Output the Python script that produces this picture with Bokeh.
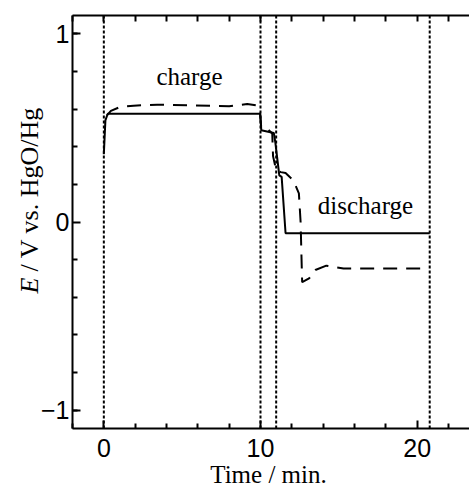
from bokeh.plotting import figure
from bokeh.models import Range1d, FixedTicker, LinearAxis, Label
from bokeh.embed import file_html
from bokeh.resources import INLINE

# ---- data ----
solid_t = [0.0, 0.1, 0.25, 9.9, 9.98, 10.05, 10.85, 10.95, 11.2, 11.35, 11.6, 20.8]
solid_E = [0.36, 0.54, 0.575, 0.575, 0.575, 0.487, 0.473, 0.42, 0.248, 0.24, -0.06, -0.06]

dash_t = [0.2, 0.45, 1.0, 1.9, 3.4, 8.0, 9.15, 9.7, 9.95, 10.05, 10.5, 10.75, 10.8,
          11.0, 11.3, 11.6, 12.1, 12.45, 12.56, 12.62, 12.66, 13.1, 13.5, 14.2, 15.3, 20.55]
dash_E = [0.566, 0.59, 0.61, 0.618, 0.623, 0.615, 0.627, 0.62, 0.6, 0.5, 0.49, 0.47, 0.35,
          0.275, 0.265, 0.26, 0.22, 0.152, 0.0, -0.2, -0.32, -0.30, -0.255, -0.232, -0.247, -0.247]

markers = [0, 10, 11, 20.8]

x_major = [0, 10, 20]
x_minor = [-2, 2, 4, 6, 8, 12, 14, 16, 18, 22]
y_major = [-1, 0, 1]
y_minor = [-1.0, -0.8, -0.6, -0.4, -0.2, 0.2, 0.4, 0.6, 0.8, 1.0]
y_labels = {-1: "\u22121", 0: "0", 1: "1"}

# axis box limits
x_lo, x_hi = -2.0, 23.34
y_lo, y_hi = -1.097, 1.097

# ---- layout (pixels) ----
W, H = 469, 488
BOX_L, BOX_T, BOX_B = 72, 15, 60
sx = (W - BOX_L) / (x_hi - x_lo)          # px per minute
sy = (H - BOX_T - BOX_B) / (y_hi - y_lo)  # px per volt

SANS = "Liberation Sans"
SERIF = "Liberation Serif"

p = figure(width=W, height=H, output_backend="svg", toolbar_location=None,
           x_range=Range1d(x_lo - BOX_L / sx, x_hi),
           y_range=Range1d(y_lo - BOX_B / sy, y_hi + BOX_T / sy),
           min_border=0, x_axis_location=None, y_axis_location=None)
p.outline_line_color = None
p.xgrid.visible = False
p.ygrid.visible = False
p.background_fill_color = "white"
p.border_fill_color = "white"

def style(ax):
    ax.axis_line_color = "black"
    ax.axis_line_width = 2
    ax.major_tick_line_color = "black"
    ax.major_tick_line_width = 2
    ax.minor_tick_line_color = "black"
    ax.minor_tick_line_width = 2
    ax.major_tick_in = 8
    ax.major_tick_out = 0
    ax.minor_tick_in = 5
    ax.minor_tick_out = 0
    ax.major_label_text_font = SANS
    ax.major_label_text_font_size = "25px"
    ax.major_label_text_color = "black"

xb = LinearAxis(ticker=FixedTicker(ticks=x_major, minor_ticks=x_minor),
                fixed_location=y_lo, bounds=(x_lo, x_hi))
style(xb)
xb.major_label_standoff = 10
p.add_layout(xb, "below")

xt = LinearAxis(ticker=FixedTicker(ticks=[], minor_ticks=x_major + x_minor),
                fixed_location=y_hi, bounds=(x_lo, x_hi))
style(xt)
xt.minor_tick_in = 6
p.add_layout(xt, "above")

yl = LinearAxis(ticker=FixedTicker(ticks=y_major, minor_ticks=y_minor),
                major_label_overrides=y_labels,
                fixed_location=x_lo, bounds=(y_lo, y_hi))
style(yl)
yl.major_label_standoff = 3
p.add_layout(yl, "left")

# dotted step markers
p.segment(x0=markers, y0=[y_lo] * len(markers), x1=markers, y1=[y_hi] * len(markers),
          line_color="black", line_width=2, line_dash="3 2")

p.line(solid_t, solid_E, line_color="black", line_width=2)
p.line(dash_t, dash_E, line_color="black", line_width=2, line_dash="14 9")

# pixel positions converted through the scales
def px_x(px):
    return x_lo + (px - BOX_L) / sx

def px_y(py):
    return y_hi - (py - BOX_T) / sy

p.add_layout(Label(x=px_x(189), y=px_y(76), text="charge", text_font=SERIF,
                   text_font_size="25px", text_align="center",
                   text_baseline="alphabetic", text_color="black"))
p.add_layout(Label(x=px_x(365), y=px_y(205), text="discharge", text_font=SERIF,
                   text_font_size="25px", text_align="center",
                   text_baseline="alphabetic", text_color="black"))

# axis titles
p.add_layout(Label(x=px_x(29), y=px_y(293), text="E", text_font=SERIF,
                   text_font_style="italic", text_font_size="26px",
                   angle=1.5708, text_align="left", text_baseline="alphabetic",
                   text_color="black"))
p.add_layout(Label(x=px_x(29), y=px_y(271), text="/ V vs. HgO/Hg", text_font=SERIF,
                   text_font_size="26px", angle=1.5708, text_align="left",
                   text_baseline="alphabetic", text_color="black"))
p.add_layout(Label(x=px_x(268), y=px_y(474), text="Time / min.", text_font=SERIF,
                   text_font_size="25px", text_align="center",
                   text_baseline="alphabetic", text_color="black"))

open("out.html", "w").write(file_html(p, INLINE))
